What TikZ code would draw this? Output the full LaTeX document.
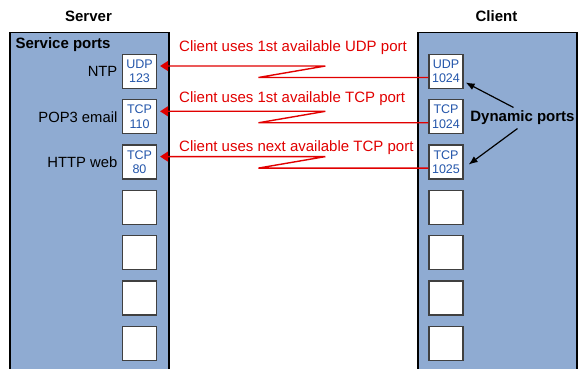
\documentclass[tikz,border=0pt]{standalone}
\usepackage{fontspec}
\setmainfont{Liberation Sans}
\usetikzlibrary{positioning,arrows.meta}

\definecolor{hostblue}{RGB}{143,171,210}
\definecolor{portblue}{RGB}{35,85,170}
\definecolor{msgred}{RGB}{225,0,0}

\tikzset{
  host/.style={draw=black,line width=1.5pt,fill=hostblue,minimum width=159pt,minimum height=360pt,anchor=north west,inner sep=0pt},
  port/.style={draw=black!75,line width=1.2pt,fill=white,minimum size=34pt,inner sep=0pt,align=center,
    font=\fontsize{12.5}{14.5}\selectfont,text=portblue},
  head/.style={font=\fontsize{15}{17}\selectfont\bfseries},
  svc/.style={font=\fontsize{14.8}{17}\selectfont,anchor=east},
  msg/.style={font=\fontsize{15}{17}\selectfont,text=msgred,anchor=west,inner sep=0pt},
  req/.style={draw=msgred,line width=1.4pt,-{Triangle[length=8pt,width=10pt]}},
}

\begin{document}
\begin{tikzpicture}[x=1pt,y=-1pt,node distance=10.1pt]
\clip (0,0) rectangle (582,369);

% hosts
\node[host] (srv) at (9,32) {};
\node[host] (cli) at (417,32) {};
\node[head] at (88.5,16) {Server};
\node[head] at (496.5,16) {Client};
\node[head,anchor=west] at (12,45) {Service ports};

% server ports
\node[port] (sU) at (139.5,71.5) {UDP\\123};
\node[port] (sT) [below=of sU] {TCP\\110};
\node[port] (sH) [below=of sT] {TCP\\80};
\node[port] (s4) [below=of sH] {};
\node[port] (s5) [below=of s4] {};
\node[port] (s6) [below=of s5] {};
\node[port] (s7) [below=of s6] {};

\node[svc] [left=1pt of sU] {NTP};
\node[svc] [left=1pt of sT] {POP3 email};
\node[svc] [left=1pt of sH] {HTTP web};

% client ports
\node[port] (cU) at (446,71.5) {UDP\\1024};
\node[port] (cT) [below=of cU] {TCP\\1024};
\node[port] (cN) [below=of cT] {TCP\\1025};
\node[port] (c4) [below=of cN] {};
\node[port] (c5) [below=of c4] {};
\node[port] (c6) [below=of c5] {};
\node[port] (c7) [below=of c6] {};

% requests
\foreach \c/\s in {cU/sU,cT/sT,cN/sH}{
  \draw[req] ([yshift=-6pt]\c.west) -- ++(-170,0) -- ++(67,-11.5)
    -- ([xshift=3pt,yshift=5.5pt]\s.east);
}
\node[msg] at (179,48) {Client uses 1st available UDP port};
\node[msg] at (179,99) {Client uses 1st available TCP port};
\node[msg] at (179,148) {Client uses next available TCP port};

% dynamic ports
\node[head] (dyn) at (522.5,118) {Dynamic ports};
\draw[line width=1.2pt,-{Latex[length=9pt,width=7pt]}] ([xshift=-9pt]dyn.north) -- ([xshift=2pt]cU.-32);
\draw[line width=1.2pt,-{Latex[length=9pt,width=7pt]}] ([xshift=-5pt]dyn.south) -- ([xshift=5pt]cN.-8);
\end{tikzpicture}
\end{document}
